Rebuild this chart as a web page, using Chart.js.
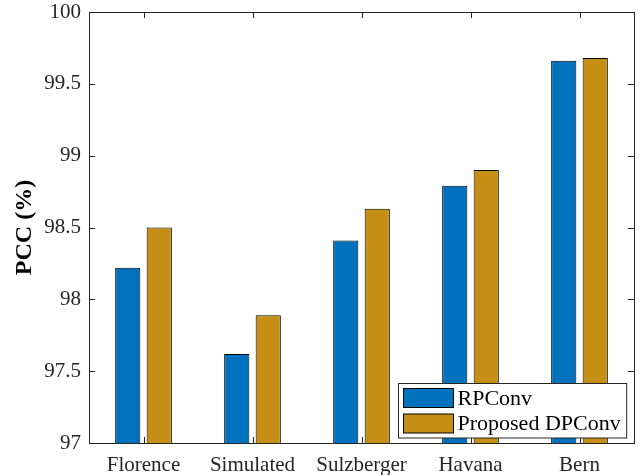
<!DOCTYPE html>
<html>
<head>
<meta charset="utf-8">
<script src="https://cdn.jsdelivr.net/npm/chart.js@4"></script>
<style>
  html, body { margin: 0; padding: 0; background: #fff; }
  #wrap { width: 641px; height: 475px; }
</style>
</head>
<body>
<div id="wrap"><canvas id="pccChart" width="641" height="475"></canvas></div>
<script>
// Data
const categories = ['Florence', 'Simulated', 'Sulzberger', 'Havana', 'Bern'];
const rpconv = [98.22, 97.62, 98.41, 98.79, 99.66];
const dpconv = [98.50, 97.89, 98.63, 98.90, 99.68];
const yTicks = [97, 97.5, 98, 98.5, 99, 99.5, 100];

const axisColor = '#262626';
const serif = '"Liberation Serif", "Times New Roman", serif';

// MATLAB-like box with inward ticks
const boxTicks = {
  id: 'boxTicks',
  beforeDatasetsDraw(chart) {
    const { ctx, chartArea: a, scales: { x, y } } = chart;
    ctx.save();
    ctx.strokeStyle = axisColor;
    ctx.lineWidth = 1;
    ctx.beginPath();
    y.ticks.forEach(t => {
      const py = Math.round(y.getPixelForValue(t.value)) + 0.5;
      ctx.moveTo(a.left, py); ctx.lineTo(a.left + 6, py);
      ctx.moveTo(a.right, py); ctx.lineTo(a.right - 6, py);
    });
    x.ticks.forEach((t, i) => {
      const px = Math.round(x.getPixelForTick(i)) + 0.5;
      ctx.moveTo(px, a.bottom); ctx.lineTo(px, a.bottom - 6);
      ctx.moveTo(px, a.top); ctx.lineTo(px, a.top + 6);
    });
    ctx.stroke();
    ctx.restore();
  },
  afterDraw(chart) {
    const { ctx, chartArea: a } = chart;
    ctx.save();
    ctx.strokeStyle = axisColor;
    ctx.lineWidth = 1;
    ctx.beginPath();
    ctx.moveTo(a.left, a.top + 0.5); ctx.lineTo(a.right + 1, a.top + 0.5);
    ctx.moveTo(a.right + 0.5, a.top); ctx.lineTo(a.right + 0.5, a.bottom + 1);
    ctx.stroke();

    // legend, bottom-right inside the axes
    const sets = chart.data.datasets;
    ctx.font = '22px ' + serif;
    const textW = Math.max(...sets.map(d => ctx.measureText(d.label).width));
    const sw = 50, sh = 19, rowH = 25.5;
    const w = 5 + sw + 4 + textW + 6;
    const h = 5 + rowH * sets.length - 6.5 + 5;
    const bx = Math.round(a.right - 8 - w) + 0.5;
    const by = Math.round(a.bottom - 5.5 - h) + 0.5;
    ctx.fillStyle = '#fff';
    ctx.fillRect(bx, by, w, h);
    ctx.strokeStyle = axisColor;
    ctx.strokeRect(bx, by, w, h);
    sets.forEach((d, i) => {
      const sx = bx + 5, sy = by + 5 + i * rowH;
      ctx.fillStyle = d.backgroundColor;
      ctx.fillRect(sx, sy, sw, sh);
      ctx.strokeStyle = '#000';
      ctx.strokeRect(sx, sy, sw, sh);
      ctx.fillStyle = '#000';
      ctx.textBaseline = 'middle';
      ctx.textAlign = 'left';
      ctx.fillText(d.label, sx + sw + 4, sy + sh / 2 + 1);
    });
    ctx.restore();
  }
};

const ctx = document.getElementById('pccChart').getContext('2d');
new Chart(ctx, {
  type: 'bar',
  data: {
    labels: categories,
    datasets: [
      { label: 'RPConv', data: rpconv, backgroundColor: '#0072BD', borderColor: '#000', borderWidth: 1, borderSkipped: false },
      { label: 'Proposed DPConv', data: dpconv, backgroundColor: '#C58F15', borderColor: '#000', borderWidth: 1, borderSkipped: false }
    ]
  },
  options: {
    responsive: false,
    animation: false,
    layout: { padding: { left: 0, right: 7, top: 12, bottom: 0 } },
    datasets: { bar: { categoryPercentage: 0.578, barPercentage: 0.8 } },
    plugins: {
      legend: { display: false },
      tooltip: { enabled: false }
    },
    scales: {
      x: {
        offset: true,
        grid: { display: false, drawTicks: false },
        border: { display: true, color: axisColor, width: 1 },
        ticks: { color: axisColor, padding: 10, font: { family: serif, size: 21 }, maxRotation: 0 },
        afterFit(scale) {
          scale.height = 32;
          scale.paddingLeft = 0;
          scale.paddingRight = 0;
        }
      },
      y: {
        min: 97,
        max: 100,
        grid: { display: false, drawTicks: false },
        border: { display: true, color: axisColor, width: 1 },
        afterBuildTicks(scale) { scale.ticks = yTicks.map(v => ({ value: v })); },
        ticks: {
          color: axisColor,
          padding: 8,
          font: { family: serif, size: 21 },
          callback: v => String(v)
        },
        title: {
          display: true,
          text: 'PCC (%)',
          color: '#000',
          padding: { top: 10, bottom: 0 },
          font: { family: serif, size: 24, weight: 'bold' }
        },
        afterFit(scale) {
          scale.width = 89;
          scale.paddingTop = 0;
          scale.paddingBottom = 0;
        }
      }
    }
  },
  plugins: [boxTicks]
});
</script>
</body>
</html>
